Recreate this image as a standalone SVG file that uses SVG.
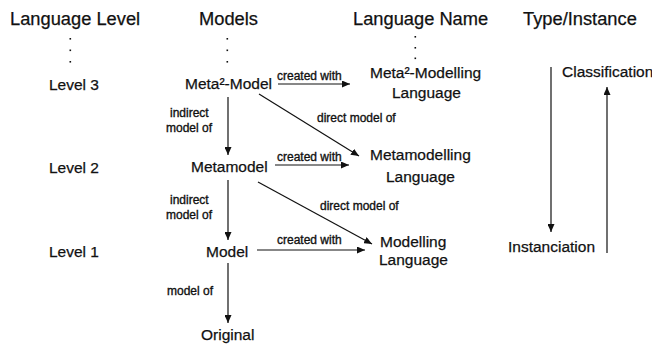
<svg xmlns="http://www.w3.org/2000/svg" width="652" height="345" viewBox="0 0 652 345">
<defs>
<marker id="ah" markerUnits="userSpaceOnUse" markerWidth="8" markerHeight="7" refX="8" refY="3.5" orient="auto">
<path d="M0,0 L8,3.5 L0,7 z" fill="#111"/>
</marker>
<style>
text{font-family:"Liberation Sans",Arial,sans-serif;fill:#111;stroke:#111;stroke-width:0.25}
.h{font-size:18.3px}
.n{font-size:15.5px}
.s{font-size:12px;stroke-width:0.35}
.c line{stroke:#111;stroke-width:1.2;marker-end:url(#ah)}
.d{fill:#111}
</style>
</defs>
<rect width="652" height="345" fill="#fff"/>
<g id="headers">
<text class="h" x="10" y="25">Language Level</text>
<text class="h" x="199" y="25">Models</text>
<text class="h" x="353" y="25">Language Name</text>
<text class="h" x="523" y="25">Type/Instance</text>
</g>
<g id="dots" class="d">
<rect x="69.5" y="38" width="1.6" height="1.6"/><rect x="69.5" y="49.5" width="1.6" height="1.6"/><rect x="69.5" y="61" width="1.6" height="1.6"/>
<rect x="226.5" y="38" width="1.6" height="1.6"/><rect x="226.5" y="49.5" width="1.6" height="1.6"/><rect x="226.5" y="61" width="1.6" height="1.6"/>
<rect x="414.5" y="36" width="1.6" height="1.6"/><rect x="414.5" y="47" width="1.6" height="1.6"/><rect x="414.5" y="57.5" width="1.6" height="1.6"/>
</g>
<g id="levels">
<text class="n" x="49" y="90">Level 3</text>
<text class="n" x="49" y="173">Level 2</text>
<text class="n" x="49" y="257">Level 1</text>
</g>
<g id="meta2model"><text class="n" x="185" y="89">Meta²-Model</text></g>
<g id="metamodel"><text class="n" x="191" y="172">Metamodel</text></g>
<g id="model"><text class="n" x="206" y="257">Model</text></g>
<g id="original"><text class="n" x="201" y="340">Original</text></g>
<g id="meta2lang"><text class="n" x="370" y="78">Meta²-Modelling</text><text class="n" x="392" y="98">Language</text></g>
<g id="metalang"><text class="n" x="370" y="160">Metamodelling</text><text class="n" x="386" y="182">Language</text></g>
<g id="modlang"><text class="n" x="380" y="247">Modelling</text><text class="n" x="379" y="265">Language</text></g>
<g id="classification"><text class="n" x="562" y="77">Classification</text></g>
<g id="instanciation"><text class="n" x="508" y="252">Instanciation</text></g>
<g id="connectors" class="c">
<line x1="228" y1="97" x2="228" y2="155"/>
<line x1="228" y1="180" x2="228" y2="240"/>
<line x1="228" y1="263" x2="228" y2="323"/>
<line x1="278" y1="84" x2="350" y2="84"/>
<line x1="275" y1="165" x2="349" y2="165"/>
<line x1="257" y1="250" x2="365" y2="250"/>
<line x1="259" y1="94" x2="359" y2="156"/>
<line x1="258" y1="182" x2="372" y2="244"/>
<line x1="551" y1="67" x2="551" y2="232"/>
<line x1="607" y1="253" x2="607" y2="87"/>
</g>
<g id="labels">
<text class="s" x="277" y="80">created with</text>
<text class="s" x="277" y="161">created with</text>
<text class="s" x="277" y="244">created with</text>
<text class="s" x="317" y="122">direct model of</text>
<text class="s" x="320" y="210">direct model of</text>
<text class="s" x="170" y="117">indirect</text>
<text class="s" x="166" y="132">model of</text>
<text class="s" x="170" y="204">indirect</text>
<text class="s" x="166" y="219">model of</text>
<text class="s" x="167" y="295">model of</text>
</g>
</svg>
